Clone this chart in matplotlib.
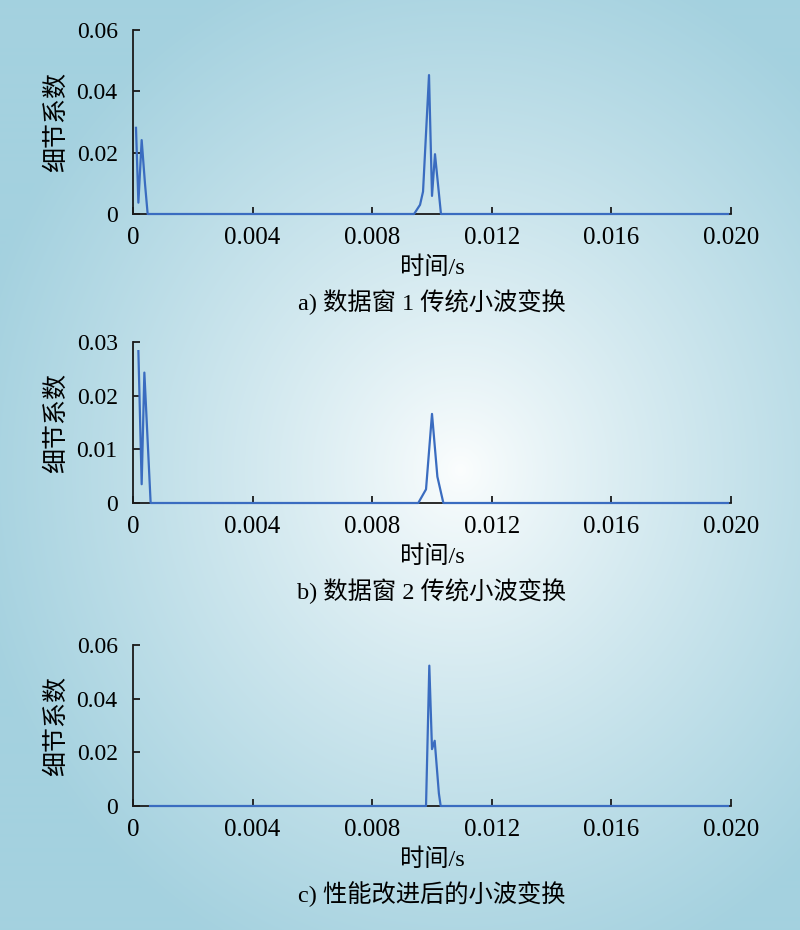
import numpy as np
import matplotlib.pyplot as plt
from matplotlib.ticker import FuncFormatter

plt.rcParams['font.family'] = ['Liberation Serif', 'Noto Sans CJK SC']
plt.rcParams['axes.unicode_minus'] = False

# data (time in s, detail coefficient)
t_a = [0.0001, 0.00018, 0.00029, 0.0004, 0.00049, 0.0094, 0.0096, 0.0097, 0.0099, 0.0100, 0.0101, 0.0103, 0.0199]
v_a = [0.0281, 0.0037, 0.0241, 0.010, 0.0, 0.0, 0.003, 0.0073, 0.0453, 0.0059, 0.0195, 0.0, 0.0]

t_b = [0.00018, 0.00029, 0.00038, 0.00059, 0.00954, 0.0098, 0.0100, 0.01018, 0.01038, 0.0199]
v_b = [0.0283, 0.0035, 0.0243, 0.0, 0.0, 0.00255, 0.0166, 0.0049, 0.0, 0.0]

t_c = [0.00057, 0.0098, 0.00991, 0.0100, 0.01009, 0.01023, 0.01029, 0.0199]
v_c = [0.0, 0.0, 0.0523, 0.0212, 0.0243, 0.0047, 0.0, 0.0]

x_ticks = [0, 0.004, 0.008, 0.012, 0.016, 0.020]
x_labels = ['0', '0.004', '0.008', '0.012', '0.016', '0.020']
captions = ['a) 数据窗 1 传统小波变换', 'b) 数据窗 2 传统小波变换', 'c) 性能改进后的小波变换']
y_max = [0.06, 0.03, 0.06]
y_ticks = [[0, 0.02, 0.04, 0.06], [0, 0.01, 0.02, 0.03], [0, 0.02, 0.04, 0.06]]

W, H = 800, 930
fig = plt.figure(figsize=(W / 100, H / 100), dpi=100)

# radial gradient background
bg = fig.add_axes([0, 0, 1, 1], zorder=-10)
yy, xx = np.mgrid[0:H, 0:W]
r = np.sqrt(((xx - 460) / 500.0) ** 2 + ((yy - 470) / 540.0) ** 2)
r = np.clip(r, 0, 1) ** 0.85
c0 = np.array([252, 254, 254]) / 255.0
c1 = np.array([164, 209, 223]) / 255.0
img = c0[None, None, :] * (1 - r[..., None]) + c1[None, None, :] * r[..., None]
bg.imshow(img, aspect='auto', extent=[0, 1, 0, 1], origin='upper')
bg.axis('off')

# axes boxes in pixels: (bottom y, top y)
boxes = [(214, 30), (503, 342), (806, 645)]
series = [(t_a, v_a), (t_b, v_b), (t_c, v_c)]
left_px, right_px = 133, 731

def yfmt(v, pos):
    return '0' if abs(v) < 1e-12 else '%.2f' % v

for i, ((yb, yt), (t, v)) in enumerate(zip(boxes, series)):
    ax = fig.add_axes([left_px / W, 1 - yb / H, (right_px - left_px) / W, (yb - yt) / H])
    ax.patch.set_alpha(0)
    ax.plot(t, v, color='#3a6cc0', lw=1.6, zorder=3, clip_on=False)
    ax.set_xlim(0, 0.020)
    ax.set_ylim(0, y_max[i])
    ax.set_xticks(x_ticks)
    ax.set_xticklabels(x_labels)
    ax.set_yticks(y_ticks[i])
    ax.yaxis.set_major_formatter(FuncFormatter(yfmt))
    for s in ['top', 'right']:
        ax.spines[s].set_visible(False)
    for s in ['left', 'bottom']:
        ax.spines[s].set_color('#1a1a1a')
        ax.spines[s].set_linewidth(1.3)
    ax.tick_params(direction='in', length=5, width=1.3, color='#1a1a1a',
                   labelsize=18, pad=9)
    ax.tick_params(axis='y', pad=11, labelsize=17)
    ax.set_ylabel('细节系数', fontsize=18, labelpad=6)
    ax.set_xlabel('时间/s', fontsize=17.5, labelpad=6)
    fig.text(0.5 * (left_px + right_px) / W, 1 - (yb + 88) / H, captions[i],
             ha='center', va='center', fontsize=17.5)

fig.savefig('out.png', dpi=100)
